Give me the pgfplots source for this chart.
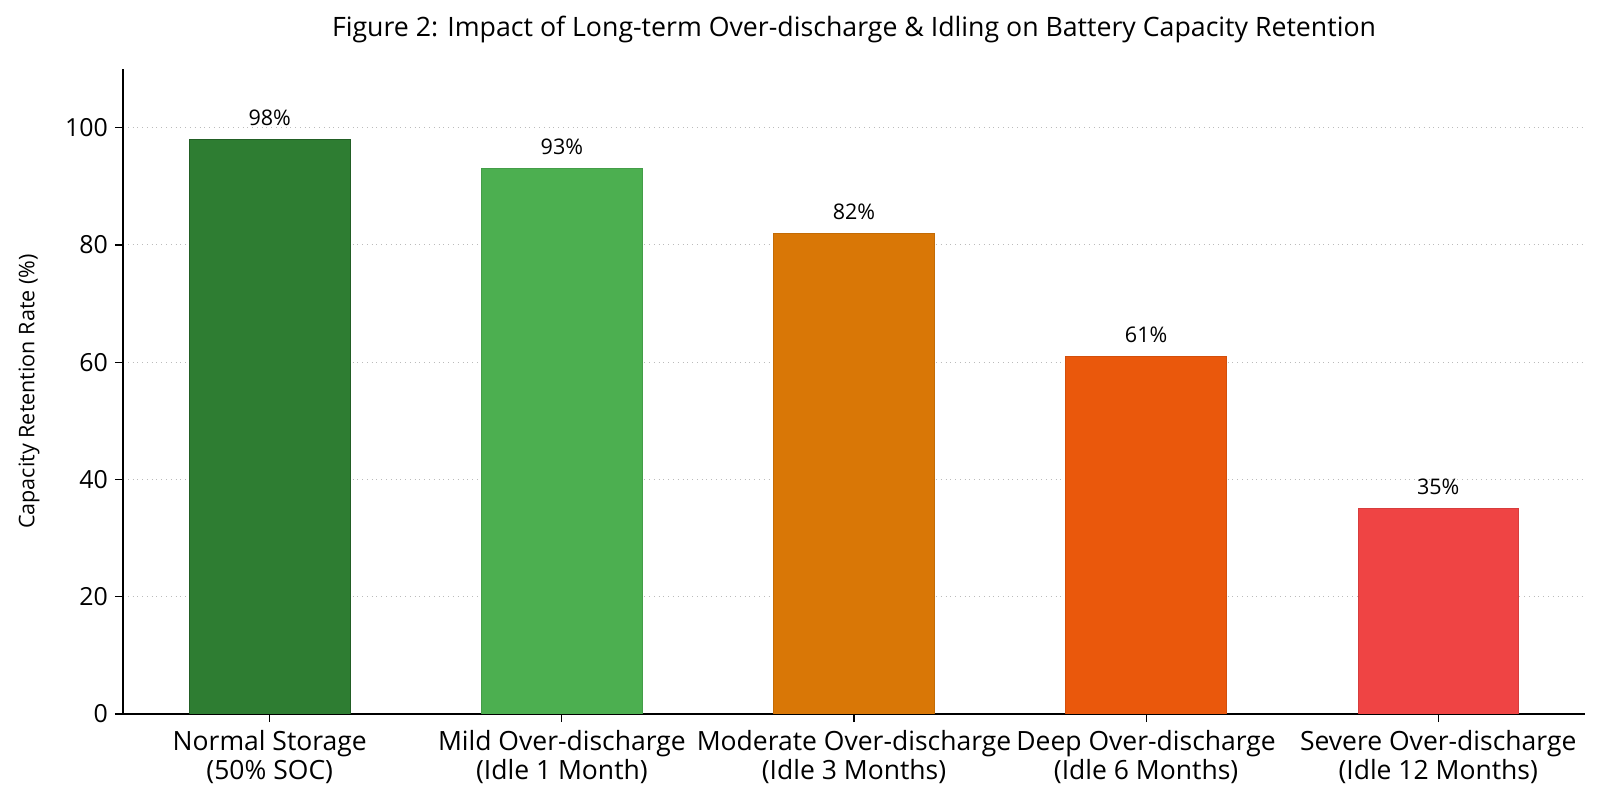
\documentclass[border=0pt]{standalone}
\usepackage{pgfplots}
\pgfplotsset{compat=1.18}
\usepackage{fontspec}
\setmainfont{Open Sans}
\definecolor{c1}{HTML}{2E7D32}
\definecolor{c2}{HTML}{4CAF50}
\definecolor{c3}{HTML}{D97706}
\definecolor{c4}{HTML}{EA580C}
\definecolor{c5}{HTML}{EF4444}
\definecolor{gridc}{HTML}{BBBBBB}
\begin{document}
\begin{tikzpicture}
\path[use as bounding box] (-61.5bp,-43bp) rectangle (738.5bp,357bp);
\begin{axis}[
  at={(0,0)}, anchor=south west,
  scale only axis, width=731bp, height=322.5bp,
  xmin=-0.5025, xmax=4.5025, ymin=0, ymax=110,
  ybar, bar width=0.55, bar shift=0pt,
  axis x line*=bottom, axis y line*=left,
  axis line style={line width=0.6pt, black},
  xtick={0,1,2,3,4},
  xticklabels={{Normal Storage\\(50\% SOC)},{Mild Over-discharge\\(Idle 1 Month)},{Moderate Over-discharge\\(Idle 3 Months)},{Deep Over-discharge\\(Idle 6 Months)},{Severe Over-discharge\\(Idle 12 Months)}},
  xticklabel style={align=center, font=\fontsize{13.3}{14.6}\selectfont, yshift=-0.5bp},
  ytick={0,20,40,60,80,100},
  yticklabel style={font=\fontsize{12.5}{15}\selectfont},
  /pgf/number format/assume math mode=true,
  tick align=outside, major tick length=4bp,
  tick style={black, line width=0.6pt},
  ymajorgrids, grid style={dotted, gridc, line width=0.5pt},
  ylabel={Capacity Retention Rate (\%)},
  ylabel style={at={(axis description cs:-0.0643,0.5)}, anchor=center, font=\fontsize{10.8}{12}\selectfont},
  title={Figure 2: Impact of Long-term Over-discharge \& Idling on Battery Capacity Retention},
  title style={at={(axis description cs:0.5,1)}, anchor=base, yshift=10.5bp, font=\fontsize{13.4}{15}\selectfont},
  nodes near coords={\pgfmathprintnumber{\pgfplotspointmeta}\%},
  nodes near coords style={anchor=base, yshift=7bp, font=\fontsize{10.8}{12}\selectfont, black},
]
\addplot[fill=c1, draw=c1!75!black, line width=0.5pt] coordinates {(0,98)};
\addplot[fill=c2, draw=c2!90!black, line width=0.4pt] coordinates {(1,93)};
\addplot[fill=c3, draw=c3!90!black, line width=0.4pt] coordinates {(2,82)};
\addplot[fill=c4, draw=c4!90!black, line width=0.4pt] coordinates {(3,61)};
\addplot[fill=c5, draw=c5!90!black, line width=0.4pt] coordinates {(4,35)};
\end{axis}
\end{tikzpicture}
\end{document}
